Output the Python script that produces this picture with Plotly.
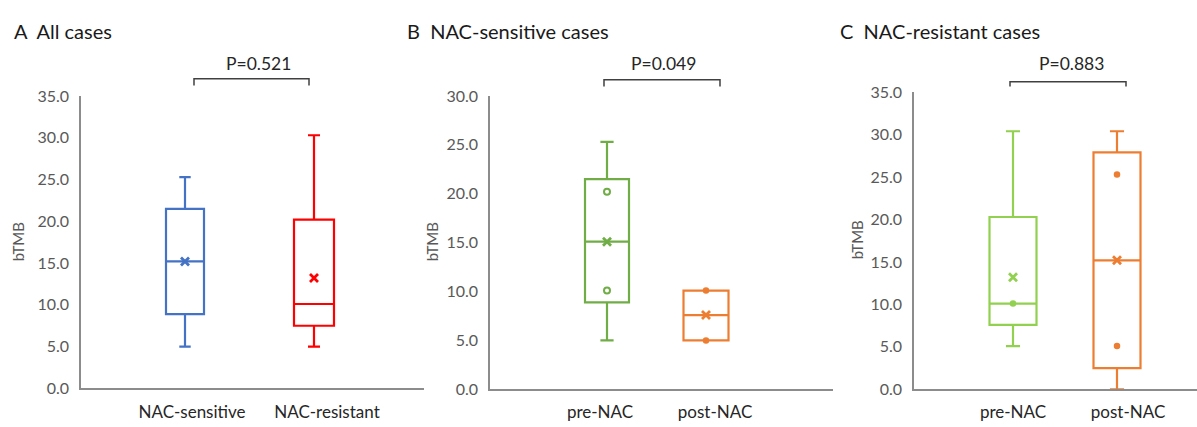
import plotly.graph_objects as go

W, H = 1197, 427
FONT = "Lato"

# ---------------- data ----------------
# Panel A: All cases
a_labels = ["NAC-sensitive", "NAC-resistant"]
a_q1 = [8.9, 7.5]
a_median = [15.2, 10.1]
a_q3 = [21.5, 20.2]
a_low = [5.0, 5.0]
a_high = [25.3, 30.3]
a_mean = [15.2, 13.2]
a_points = [[], []]
a_p = "P=0.521"

# Panel B: NAC-sensitive cases
b_labels = ["pre-NAC", "post-NAC"]
b_q1 = [8.9, 5.0]
b_median = [15.1, 7.6]
b_q3 = [21.5, 10.1]
b_low = [5.0, 5.0]
b_high = [25.3, 10.1]
b_mean = [15.1, 7.6]
b_points = [[20.2, 10.1], [10.1, 5.0]]
b_p = "P=0.049"

# Panel C: NAC-resistant cases
c_labels = ["pre-NAC", "post-NAC"]
c_q1 = [7.6, 2.5]
c_median = [10.1, 15.2]
c_q3 = [20.3, 27.9]
c_low = [5.1, 0.0]
c_high = [30.4, 30.4]
c_mean = [13.2, 15.2]
c_points = [[10.1], [25.3, 5.1]]
c_p = "P=0.883"

titles = ["A  All cases", "B  NAC-sensitive cases", "C  NAC-resistant cases"]
y_title = "bTMB"

# ---------------- styling / layout ----------------
panels = [
    dict(lab=a_labels, q1=a_q1, med=a_median, q3=a_q3, lo=a_low, hi=a_high, mean=a_mean,
         pts=a_points, p=a_p, colors=["#4472C4", "#FF0000"], open_pts=[False, False],
         xdom=(81, 424), ydom=(396, 90), yrange=(0, 35), centers=(185, 314),
         boxw=(38, 40), label_px=(192, 327), title_px=(12, 22), ytitle_px=(18, 243),
         bracket=(194, 309, 72, 79), ptext=(258, 56)),
    dict(lab=b_labels, q1=b_q1, med=b_median, q3=b_q3, lo=b_low, hi=b_high, mean=b_mean,
         pts=b_points, p=b_p, colors=["#70AD47", "#ED7D31"], open_pts=[True, False],
         xdom=(490, 833), ydom=(397, 90), yrange=(0, 30), centers=(607, 706),
         boxw=(44, 45), label_px=(600, 715), title_px=(405, 22), ytitle_px=(432, 243),
         bracket=(604, 720, 73, 80), ptext=(663, 56)),
    dict(lab=c_labels, q1=c_q1, med=c_median, q3=c_q3, lo=c_low, hi=c_high, mean=c_mean,
         pts=c_points, p=c_p, colors=["#92D050", "#ED7D31"], open_pts=[False, False],
         xdom=(914, 1197), ydom=(397, 86), yrange=(0, 35), centers=(1013, 1117),
         boxw=(47, 47), label_px=(1013, 1128), title_px=(838, 22), ytitle_px=(857, 241),
         bracket=(1010, 1126, 75, 80), ptext=(1071, 56)),
]

fig = go.Figure()
annotations = []
shapes = []

for i, pn in enumerate(panels):
    k = "" if i == 0 else str(i + 1)
    xa, ya = "x" + k, "y" + k
    c0, c1 = pn["centers"]
    unit = (c1 - c0)  # px per x unit
    xr = [(pn["xdom"][0] - c0) / unit, (pn["xdom"][1] - c0) / unit]

    for j in range(2):
        col = pn["colors"][j]
        fig.add_trace(go.Box(
            x=[j], q1=[pn["q1"][j]], median=[pn["med"][j]], q3=[pn["q3"][j]],
            lowerfence=[pn["lo"][j]], upperfence=[pn["hi"][j]],
            width=pn["boxw"][j] / unit, whiskerwidth=0.3,
            line=dict(color=col, width=2.2), fillcolor="rgba(255,255,255,0)",
            boxpoints=False, showlegend=False, hoverinfo="skip",
            xaxis=xa, yaxis=ya))
        # mean marker
        fig.add_trace(go.Scatter(
            x=[j], y=[pn["mean"][j]], mode="markers",
            marker=dict(symbol="x-thin", size=8, line=dict(color=col, width=2.8), color=col),
            showlegend=False, hoverinfo="skip", xaxis=xa, yaxis=ya))
        # inner points
        if pn["pts"][j]:
            if pn["open_pts"][j]:
                mk = dict(symbol="circle-open", size=6, line=dict(color=col, width=2), color=col)
            else:
                mk = dict(symbol="circle", size=6.5, color=col, line=dict(width=0))
            fig.add_trace(go.Scatter(
                x=[j] * len(pn["pts"][j]), y=pn["pts"][j], mode="markers", marker=mk,
                showlegend=False, hoverinfo="skip", xaxis=xa, yaxis=ya))

    lab_pos = [(p - c0) / unit for p in pn["label_px"]]
    fig.update_layout(**{
        "xaxis" + k: dict(domain=[pn["xdom"][0] / W, pn["xdom"][1] / W], range=xr,
                          showgrid=False, zeroline=False, showline=True,
                          linecolor="#8C8C8C", linewidth=1.5,
                          tickmode="array", tickvals=lab_pos, ticktext=pn["lab"],
                          ticks="", ticklabelstandoff=7,
                          tickfont=dict(family=FONT, size=17, color="#262626"),
                          anchor=ya, fixedrange=True),
        "yaxis" + k: dict(domain=[1 - pn["ydom"][0] / H, 1 - pn["ydom"][1] / H],
                          range=list(pn["yrange"]), dtick=5, tick0=0, tickformat=".1f",
                          showgrid=False, zeroline=False, showline=True,
                          linecolor="#8C8C8C", linewidth=1.5, ticks="",
                          ticklabelstandoff=7,
                          tickfont=dict(family=FONT, size=16, color="#595959"),
                          anchor=xa, fixedrange=True),
    })

    # panel title
    tx, ty = pn["title_px"]
    annotations.append(dict(text=titles[i], xref="paper", yref="paper", x=tx / W, y=1 - ty / H,
                            xanchor="left", yanchor="middle", showarrow=False,
                            font=dict(family=FONT, size=20, color="#1a1a1a")))
    # y title
    yx, yy = pn["ytitle_px"]
    annotations.append(dict(text=y_title, xref="paper", yref="paper", x=yx / W, y=1 - yy / H,
                            xanchor="center", yanchor="middle", textangle=-90, showarrow=False,
                            font=dict(family=FONT, size=15, color="#595959")))
    # p-value text
    px, py = pn["ptext"]
    annotations.append(dict(text=pn["p"], xref="paper", yref="paper", x=px / W, y=1 - py / H,
                            xanchor="center", yanchor="middle", showarrow=False,
                            font=dict(family=FONT, size=17.5, color="#262626")))
    # bracket
    bx0, bx1, by0, by1 = pn["bracket"]
    pts = [(bx0, by1), (bx0, by0), (bx1, by0), (bx1, by1)]
    path = "M " + " L ".join(f"{x / W:.5f},{1 - y / H:.5f}" for x, y in pts)
    shapes.append(dict(type="path", path=path, xref="paper", yref="paper",
                       line=dict(color="#404040", width=1.5)))

fig.update_layout(width=W, height=H, margin=dict(l=0, r=0, t=0, b=0),
                  paper_bgcolor="white", plot_bgcolor="white",
                  annotations=annotations, shapes=shapes, showlegend=False,
                  font=dict(family=FONT))

fig.write_html("out.html", config={"displayModeBar": False})
